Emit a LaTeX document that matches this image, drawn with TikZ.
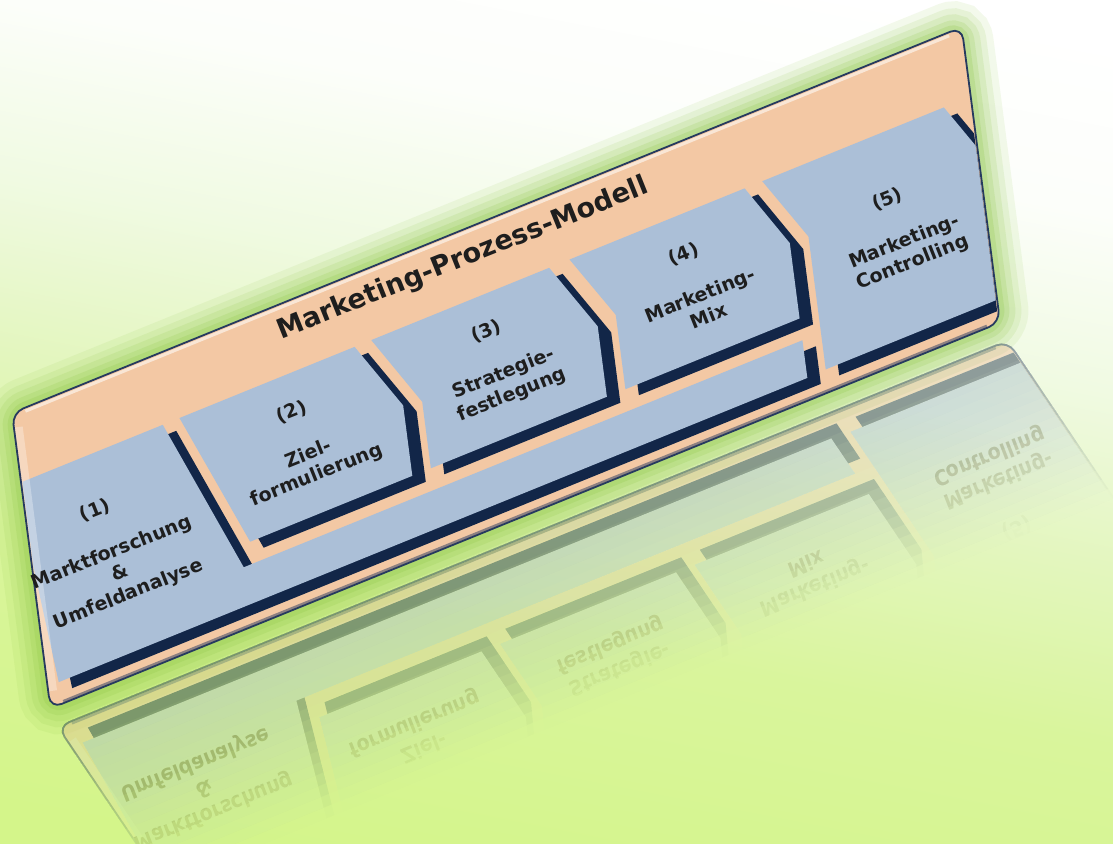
\documentclass[tikz,border=0pt]{standalone}
\usepackage{fontspec}
\setmainfont{DejaVu Sans}
\definecolor{peach}{RGB}{243,200,164}
\definecolor{boxblue}{RGB}{171,191,215}
\definecolor{navy}{RGB}{18,38,72}
\definecolor{rim}{RGB}{38,58,95}
\definecolor{glowgreen}{RGB}{140,198,68}
\definecolor{txt}{RGB}{30,30,30}
\definecolor{bgA}{RGB}{212,245,138}
\definecolor{bgB}{RGB}{217,245,156}
\definecolor{bgC}{RGB}{227,246,190}
\definecolor{bgD}{RGB}{240,250,226}
\definecolor{bgE}{RGB}{252,254,250}
\pgfdeclareverticalshading{bgshade}{100bp}{color(0bp)=(bgA); color(25bp)=(bgA); color(39bp)=(bgB); color(48bp)=(bgC); color(57bp)=(bgD); color(66bp)=(bgE); color(75bp)=(white); color(100bp)=(white)}
\tikzset{
  panelframe/.style={x=1pt,y=-1pt,cm={0.9265,0.3765,-0.129,0.9915,(12pt,-413pt)}},
  reflframe/.style={x=1pt,y=-1pt,cm={0.9265,0.3765,0.6248,-0.9270,(244pt,-1003pt)}},
  flatrot/.style={transform shape,cm={1.0014,-0.0057,-0.2569,1.0340,(0,0)},inner sep=0pt,text=txt,align=center},
  boxtext/.style={flatrot,font=\fontsize{19}{22.5}\selectfont\bfseries},
  titletext/.style={flatrot,font=\fontsize{27}{30}\selectfont\bfseries},
}
\newcommand\allboxes[1]{%
  \fill[#1] (-6,70) -- (153,70) -- (217,238) -- (820,238) -- (820,276) -- (12,276) -- cycle;
  \fill[#1] (171,70) -- (360,70) -- (402,145) -- (402,216) -- (227,216) -- cycle;
  \fill[#1] (378,70) -- (570,70) -- (612,145) -- (612,216) -- (422,216) -- (422,149) -- cycle;
  \fill[#1] (592,70) -- (781,70) -- (820,140) -- (820,216) -- (632,216) -- (632,141) -- cycle;
  \fill[#1] (800,70) -- (996,70) -- (1060,184) -- (1060,275) -- (840,275) -- (840,141) -- cycle;
}
\newcommand\panelcontent[1]{%
  \fill[peach,rounded corners=12pt] (0,0) rectangle (1025,298);
  \begin{scope}
    \clip[rounded corners=12pt] (1.5,1.5) rectangle (1023.5,296.5);
    \begin{scope}[shift={(13,11)}]\allboxes{navy}\end{scope}
    \allboxes{boxblue}
  \end{scope}
  \draw[white,opacity=0.55,line width=3pt] (14,3.5) -- (1011,3.5);
  \draw[white,opacity=0.3,line width=8pt] (5,16) -- (5,282);
  \draw[rim,opacity=0.5,line width=2.5pt] (14,296) -- (1011,296);
  \draw[rim,line width=1.8pt,rounded corners=12pt] (0,0) rectangle (1025,298);
  \node[titletext] (#1title) at (482.8,28.1) {Marketing-Prozess-Modell};
  \node[boxtext] (#1b1) at (83.8,173) {(1)\\[22.5pt]Marktforschung\\\&\\Umfeldanalyse};
  \node[boxtext] (#1b2) at (295.7,143.6) {(2)\\[22.5pt]Ziel-\\formulierung};
  \node[boxtext] (#1b3) at (506.3,142.4) {(3)\\[22.5pt]Strategie-\\festlegung};
  \node[boxtext] (#1b4) at (718.2,142.8) {(4)\\[22.5pt]Marketing-\\Mix};
  \node[boxtext] (#1b5) at (935,172) {(5)\\[22.5pt]Marketing-\\Controlling};
}
\begin{document}
\begin{tikzpicture}[x=1pt,y=-1pt]
  \useasboundingbox (0,0) rectangle (1113,843);
  \shade[shading=bgshade,shading angle=-11] (-40,-40) rectangle (1153,883);
  \begin{scope}[panelframe]
    \foreach \w/\o in {60/0.10,46/0.12,34/0.15,22/0.18,12/0.22}
      \draw[glowgreen,line width=\w pt,opacity=\o,rounded corners=14pt] (0,0) rectangle (1025,298);
  \end{scope}
  \foreach \j in {0,...,16}{
    \pgfmathsetmacro\aj{0.46*(1-(\j+0.5)/17)}
    \pgfmathsetmacro\ak{ifthenelse(\j==16,0,0.46*(1-(\j+1.5)/17))}
    \pgfmathsetmacro\opa{1-(1-\aj)/(1-\ak)}
    \pgfmathsetmacro\yb{298-10*(\j+1)}
    \begin{scope}[reflframe,transparency group,opacity=\opa]
      \clip (-80,310) rectangle (1110,\yb);
      \panelcontent{r\j}
    \end{scope}
  }
  \begin{scope}[panelframe]
    \panelcontent{o}
  \end{scope}
\end{tikzpicture}
\end{document}
